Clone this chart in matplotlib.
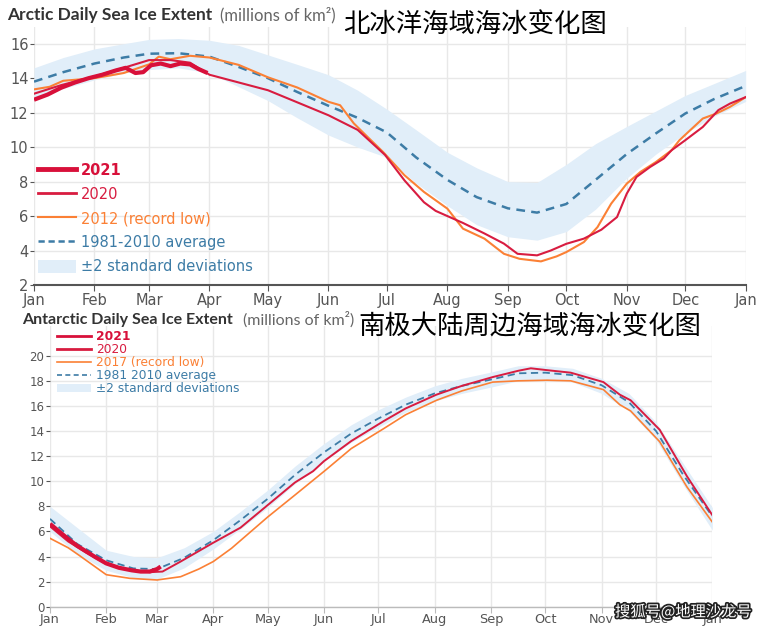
import numpy as np
import matplotlib.pyplot as plt
import matplotlib.patheffects as pe
from matplotlib.lines import Line2D
from matplotlib.patches import Patch

# ---------------- data (day of year -> million km2) ----------------
month_days = [0, 31, 59, 90, 120, 151, 181, 212, 243, 273, 304, 334, 365]
month_labels = ['Jan', 'Feb', 'Mar', 'Apr', 'May', 'Jun', 'Jul', 'Aug',
                'Sep', 'Oct', 'Nov', 'Dec', 'Jan']

clim_days = [0, 15, 31, 46, 59, 74, 90, 105, 120, 135, 151, 166, 181, 196,
             212, 227, 243, 258, 273, 288, 304, 319, 334, 349, 365]

# Arctic
arc_avg = [13.8, 14.35, 14.85, 15.2, 15.42, 15.45, 15.25, 14.65, 14.0, 13.2,
           12.4, 11.7, 10.85, 9.4, 8.1, 7.1, 6.45, 6.2, 6.7, 8.1, 9.6, 10.8,
           11.95, 12.8, 13.55]
arc_hi = [14.6, 15.2, 15.7, 16.0, 16.25, 16.3, 16.2, 15.9, 15.35, 14.8, 14.2,
          13.3, 12.2, 11.0, 9.7, 8.8, 8.0, 7.95, 9.0, 10.2, 11.2, 12.1, 13.0,
          13.7, 14.45]
arc_lo = [12.7, 13.4, 13.9, 14.3, 14.5, 14.6, 14.3, 13.5, 12.7, 11.7, 10.7,
          10.0, 9.4, 7.9, 6.6, 5.5, 4.8, 4.6, 5.1, 6.4, 8.2, 9.6, 10.8, 11.8,
          12.65]

arc21_days = [0, 7, 14, 21, 28, 35, 42, 47, 52, 56, 60, 65, 70, 75, 80, 84, 89]
arc21 = [12.75, 13.05, 13.45, 13.75, 14.0, 14.2, 14.45, 14.6, 14.3, 14.35,
         14.75, 14.85, 14.7, 14.85, 14.8, 14.55, 14.3]

arc20_days = [0, 14, 31, 46, 59, 70, 80, 90, 105, 120, 135, 151, 166, 180,
              190, 200, 206, 212, 220, 231, 241, 248, 258, 265, 273, 282, 291,
              299, 304, 309, 316, 323, 327, 334, 343, 351, 357, 365]
arc20 = [13.1, 13.6, 14.1, 14.6, 15.05, 15.05, 14.9, 14.2, 13.75, 13.3, 12.6,
         11.85, 11.0, 9.55, 8.07, 6.8, 6.3, 6.0, 5.6, 4.99, 4.4, 3.81, 3.72,
         4.0, 4.39, 4.69, 5.21, 5.94, 7.3, 8.27, 8.85, 9.34, 9.82, 10.4,
         11.17, 12.15, 12.53, 12.9]

arc12_days = [0, 8, 15, 31, 46, 59, 64, 70, 80, 90, 105, 120, 135, 151, 157,
              164, 171, 179, 190, 200, 212, 220, 231, 241, 249, 260, 268, 273,
              282, 289, 296, 304, 311, 319, 327, 331, 343, 350, 357, 365]
arc12 = [13.35, 13.5, 13.85, 14.0, 14.3, 14.8, 15.25, 15.1, 15.3, 15.2, 14.77,
         14.05, 13.46, 12.63, 12.43, 11.38, 10.6, 9.72, 8.37, 7.4, 6.43, 5.27,
         4.69, 3.81, 3.52, 3.37, 3.66, 3.91, 4.49, 5.36, 6.72, 7.88, 8.56,
         9.14, 9.82, 10.4, 11.66, 11.95, 12.34, 12.9]

# Antarctic
ant_avg = [7.0, 5.0, 3.7, 3.05, 3.0, 3.9, 5.3, 6.9, 8.6, 10.5, 12.3, 13.8,
           15.0, 16.1, 17.0, 17.6, 18.1, 18.6, 18.65, 18.45, 17.65, 16.3, 14.0,
           10.5, 7.2]
ant_hi = [8.0, 6.3, 4.5, 4.0, 3.9, 4.7, 6.0, 7.6, 9.3, 11.2, 13.0, 14.5, 15.7,
          16.7, 17.6, 18.2, 18.7, 19.2, 19.2, 19.0, 18.2, 17.0, 14.7, 11.4, 7.9]
ant_lo = [6.0, 4.2, 2.9, 2.3, 2.2, 3.1, 4.6, 6.2, 7.9, 9.8, 11.6, 13.1, 14.3,
          15.5, 16.4, 17.0, 17.5, 18.0, 18.1, 17.9, 17.0, 15.6, 13.3, 9.7, 6.1]

ant21_days = [0, 5, 10, 15, 20, 25, 31, 38, 45, 50, 55, 59, 61]
ant21 = [6.6, 6.0, 5.4, 4.85, 4.4, 3.95, 3.45, 3.1, 2.9, 2.8, 2.8, 3.0, 3.2]

ant20_days = [0, 10, 20, 31, 45, 55, 62, 72, 90, 105, 120, 135, 145, 151, 166,
              184, 196, 213, 227, 244, 258, 265, 274, 287, 305, 314, 320, 336,
              351, 365]
ant20 = [6.4, 5.2, 4.3, 3.4, 2.9, 2.75, 2.8, 3.6, 5.1, 6.3, 8.1, 9.9, 10.8,
         11.6, 13.2, 14.8, 15.8, 16.9, 17.6, 18.3, 18.8, 19.0, 18.85, 18.65,
         17.9, 16.9, 16.45, 14.1, 10.4, 7.3]

ant17_days = [0, 10, 16, 31, 44, 59, 72, 82, 90, 100, 110, 120, 135, 152, 166,
              184, 196, 213, 227, 244, 258, 274, 287, 305, 314, 320, 336, 351,
              365]
ant17 = [5.45, 4.7, 4.1, 2.55, 2.26, 2.13, 2.39, 3.0, 3.6, 4.65, 5.9, 7.15,
         8.9, 10.9, 12.6, 14.2, 15.3, 16.45, 17.2, 17.9, 18.0, 18.05, 18.0,
         17.3, 16.1, 15.6, 13.15, 9.55, 6.75]

# ---------------- style ----------------
c21 = '#d8103a'
c20 = '#d81c40'
c_low = '#fb8035'
c_avg = '#3d7ca6'
c_band = '#e1eef9'
c_txt = '#555555'
cjk = ['Noto Sans CJK SC', 'DejaVu Sans']

W, H = 768, 628
fig = plt.figure(figsize=(W / 100, H / 100), dpi=100)


def box(x0, y0, x1, y1):
    return [x0 / W, 1 - y1 / H, (x1 - x0) / W, (y1 - y0) / H]


def setup(ax, ymin, ymax, yticks, fs, xfs, spine_col, spine_lw, xpad):
    ax.set_xlim(0, 365)
    ax.set_ylim(ymin, ymax)
    ax.set_xticks(month_days)
    ax.set_xticklabels(month_labels)
    ax.set_yticks(yticks)
    ax.grid(color='#e8e8e8', lw=1)
    ax.set_axisbelow(True)
    for s in ['top', 'right', 'left']:
        ax.spines[s].set_visible(False)
    ax.spines['bottom'].set_color(spine_col)
    ax.spines['bottom'].set_linewidth(spine_lw)
    ax.tick_params(axis='x', length=4, color=spine_col, labelcolor=c_txt,
                   labelsize=xfs, pad=xpad)
    ax.tick_params(axis='y', length=3, color=c_txt, labelcolor=c_txt,
                   labelsize=fs, pad=1)


# ---------------- Arctic ----------------
ax1 = fig.add_axes(box(34, 27, 745.7, 285))
setup(ax1, 2, 16.97, [2, 4, 6, 8, 10, 12, 14, 16], 10.5, 10.5,
      '#555555', 1.5, 2)
ax1.fill_between(clim_days, arc_lo, arc_hi, color=c_band, lw=0)
ax1.plot(clim_days, arc_avg, color=c_avg, lw=1.8, dashes=(3.5, 2.5))
ax1.plot(arc12_days, arc12, color=c_low, lw=1.5)
ax1.plot(arc20_days, arc20, color=c20, lw=1.5)
ax1.plot(arc21_days, arc21, color=c21, lw=3.0, solid_capstyle='butt')

handles = [Line2D([], [], color=c21, lw=3.5),
           Line2D([], [], color=c20, lw=2),
           Line2D([], [], color=c_low, lw=1.5),
           Line2D([], [], color=c_avg, lw=1.8, dashes=(2.5, 1.5)),
           Patch(color=c_band, lw=0)]
labels = ['2021', '2020', '2012 (record low)', '1981-2010 average',
          '±2 standard deviations']
leg = ax1.legend(handles, labels, loc='upper left',
                 bbox_to_anchor=(38 / W, 1 - 163 / H),
                 bbox_transform=fig.transFigure, frameon=False, fontsize=10.5,
                 handlelength=2.6, handleheight=1.0, handletextpad=0.35,
                 labelspacing=0.62, borderaxespad=0, borderpad=0,
                 labelcolor=[c21, c20, c_low, c_avg, c_avg])
leg.get_texts()[0].set_fontweight('bold')

fig.text(7 / W, 1 - 15 / H, 'Arctic Daily Sea Ice Extent', fontsize=12.5,
         fontweight='bold', color='#333333', va='center', family='Lato')
fig.text(220 / W, 1 - 15 / H, '(millions of km²)', fontsize=12,
         color='#666666', va='center', family='Lato')
fig.text(343 / W, 1 - 24 / H, '北冰洋海域海冰变化图', fontsize=19,
         color='black', va='center', family=cjk)

# ---------------- Antarctic ----------------
ax2 = fig.add_axes(box(50, 326, 712.3, 606.7))
setup(ax2, 0, 22.37, [0, 2, 4, 6, 8, 10, 12, 14, 16, 18, 20], 8.5, 9.3,
      '#bbbbbb', 1.0, 0.5)
ax2.fill_between(clim_days, ant_lo, ant_hi, color=c_band, lw=0)
ax2.plot(clim_days, ant_avg, color=c_avg, lw=1.3, dashes=(4, 2.5))
ax2.plot(ant17_days, ant17, color=c_low, lw=1.2)
ax2.plot(ant20_days, ant20, color=c20, lw=1.4)
ax2.plot(ant21_days, ant21, color=c21, lw=3.0, solid_capstyle='butt')

handles2 = [Line2D([], [], color=c21, lw=2),
            Line2D([], [], color=c20, lw=2),
            Line2D([], [], color=c_low, lw=1.2),
            Line2D([], [], color=c_avg, lw=1.2, dashes=(3, 2)),
            Patch(color=c_band, lw=0)]
labels2 = ['2021', '2020', '2017 (record low)', '1981 2010 average',
           '±2 standard deviations']
leg2 = ax2.legend(handles2, labels2, loc='upper left',
                  bbox_to_anchor=(57 / W, 1 - 330 / H),
                  bbox_transform=fig.transFigure, frameon=False, fontsize=8.8,
                  handlelength=2.8, handleheight=0.6, handletextpad=0.4,
                  labelspacing=0.0, borderaxespad=0, borderpad=0,
                  labelcolor=[c21, c20, c_low, c_avg, c_avg])
leg2.get_texts()[0].set_fontweight('bold')

fig.text(22 / W, 1 - 320 / H, 'Antarctic Daily Sea Ice Extent', fontsize=11.5,
         fontweight='bold', color='#333333', va='center', family='Lato')
fig.text(243 / W, 1 - 320 / H, '(millions of km²)', fontsize=11.5,
         color='#666666', va='center', family='Lato')
fig.text(358 / W, 1 - 327 / H, '南极大陆周边海域海冰变化图', fontsize=19,
         color='black', va='center', family=cjk)

fig.text(615 / W, 1 - 612 / H, '搜狐号@地理沙龙号', fontsize=11,
         color='white', va='center', family=cjk,
         path_effects=[pe.withStroke(linewidth=2.5, foreground='#222222')])

fig.savefig('out.png', dpi=100)
